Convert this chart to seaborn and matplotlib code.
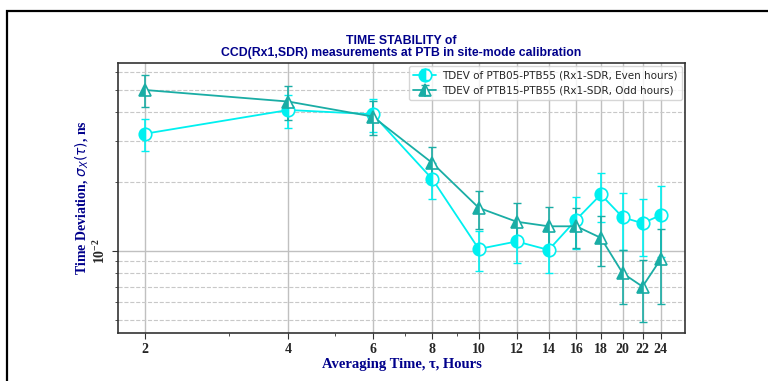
import matplotlib
matplotlib.use("Agg")
import matplotlib.pyplot as plt
import matplotlib.ticker as mticker
from matplotlib.patches import Rectangle
import seaborn as sns
import pandas as pd
import numpy as np

# averaging time tau [hours]
tau = [2, 4, 6, 8, 10, 12, 14, 16, 18, 20, 22, 24]

# TDEV PTB05-PTB55 (even hours) [ns]
tdev_even = [0.0323, 0.0410, 0.0393, 0.0205, 0.0102, 0.0110, 0.0101, 0.0137, 0.0176, 0.0140, 0.0132, 0.0143]
err_even = [0.0050, 0.0067, 0.0065, 0.0037, 0.0020, 0.0021, 0.0021, 0.0035, 0.0043, 0.0039, 0.0037, 0.0049]

# TDEV PTB15-PTB55 (odd hours) [ns]
tdev_odd = [0.0501, 0.0446, 0.0384, 0.0241, 0.0154, 0.0134, 0.0128, 0.0128, 0.0114, 0.0080, 0.0070, 0.0092]
err_odd = [0.0080, 0.0075, 0.0065, 0.0043, 0.0029, 0.0028, 0.0027, 0.0025, 0.0028, 0.0021, 0.0021, 0.0033]

labels = ["TDEV of PTB05-PTB55 (Rx1-SDR, Even hours)",
          "TDEV of PTB15-PTB55 (Rx1-SDR, Odd hours)"]
colors = ["#00f0f0", "#1aada5"]
markers = ["o", "^"]

sns.set_style("white")

fig = plt.figure(figsize=(7.68, 3.81), dpi=100)
ax = fig.add_axes([0.1536, 0.126, 0.7384, 0.7086])

series = [(tdev_even, err_even), (tdev_odd, err_odd)]
handles = []
for (vals, errs), lab, col, mk in zip(series, labels, colors, markers):
    df = pd.DataFrame({"tau": tau, "tdev": vals})
    sns.lineplot(data=df, x="tau", y="tdev", ax=ax, color=col, marker=mk,
                 markersize=9, fillstyle="left", markerfacecoloralt="white",
                 markeredgecolor=col, markeredgewidth=1.2, linewidth=1.3,
                 legend=False, zorder=3)
    line = ax.lines[-1]
    eb = ax.errorbar(tau, vals, yerr=errs, fmt="none", ecolor=col,
                     elinewidth=1.2, capsize=3, capthick=1.0, zorder=2)
    handles.append((line, eb))

ax.set_xscale("log")
ax.set_yscale("log")
ax.set_xlim(1.76, 27.0)
ax.set_ylim(0.0044, 0.0656)

ax.xaxis.set_major_locator(mticker.FixedLocator(tau))
ax.xaxis.set_major_formatter(mticker.FixedFormatter([str(t) for t in tau]))
ax.xaxis.set_minor_locator(mticker.FixedLocator([3, 5, 7, 9]))
ax.xaxis.set_minor_formatter(mticker.NullFormatter())
ax.yaxis.set_major_locator(mticker.LogLocator(base=10))
ax.yaxis.set_minor_locator(mticker.LogLocator(base=10, subs=np.arange(2, 10)))
ax.yaxis.set_minor_formatter(mticker.NullFormatter())

ax.grid(True, which="major", axis="both", color="#c0c0c0", linestyle="-", linewidth=1.0)
ax.grid(True, which="minor", axis="y", color="#c8c8c8", linestyle="--", linewidth=0.8)
ax.set_axisbelow(True)

ax.tick_params(axis="both", which="major", direction="out", length=4, width=0.8,
               color="#333333", bottom=True, left=True)
ax.tick_params(axis="both", which="minor", direction="out", length=2.5, width=0.6,
               color="#333333", bottom=True, left=True)
ax.tick_params(axis="y", which="major", labelrotation=90)
for lbl in ax.get_xticklabels() + ax.get_yticklabels():
    lbl.set_fontfamily("Liberation Serif")
    lbl.set_fontweight("bold")
    lbl.set_fontsize(10)
for lbl in ax.get_yticklabels():
    lbl.set_verticalalignment("center")

for sp in ax.spines.values():
    sp.set_color("#333333")
    sp.set_linewidth(1.2)

ax.set_xlabel("Averaging Time, \u03c4, Hours", fontfamily="Liberation Serif",
              fontweight="bold", fontsize=10.5, color="darkblue", labelpad=1)
ax.set_ylabel("Time Deviation, $\\sigma_X(\\tau)$, ns", fontfamily="Liberation Serif",
              fontweight="bold", fontsize=10, color="darkblue", labelpad=1)

fig.text(0.522, 0.877, "TIME STABILITY of\nCCD(Rx1,SDR) measurements at PTB in site-mode calibration",
         ha="center", va="center", fontfamily="Liberation Sans", fontweight="bold",
         fontsize=8.8, color="darkblue", linespacing=1.05)

ax.legend(handles, labels, loc="upper right", fontsize=7.5, frameon=True,
          borderaxespad=0.3, handlelength=2.2, handletextpad=0.6, labelspacing=0.5)

fig.patches.append(Rectangle((0.009, -0.2), 1.2, 1.171, transform=fig.transFigure,
                             fill=False, edgecolor="black", linewidth=1.6))

fig.savefig("out.png", dpi=100)
